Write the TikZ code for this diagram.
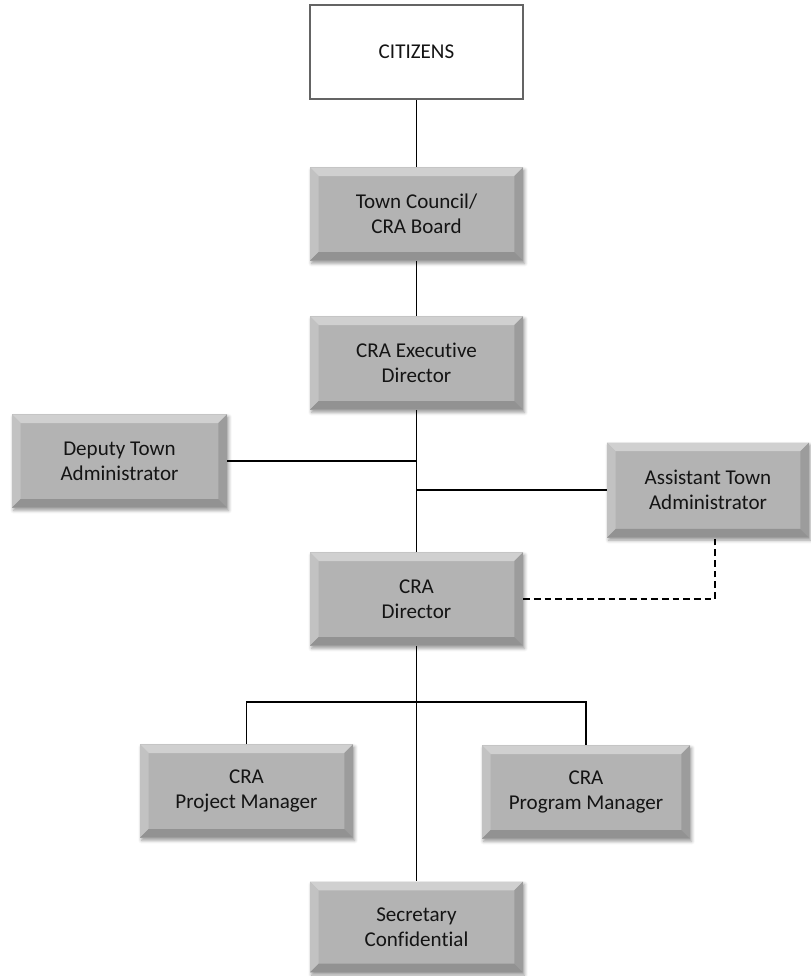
\documentclass[tikz,border=0pt]{standalone}
\usepackage{xcolor}
\usepackage{tikz}
\usepackage{fontspec}
\setmainfont{Carlito}[Ligatures={NoCommon}]
\usetikzlibrary{shadows.blur}

\definecolor{boxface}{RGB}{179,179,179}
\definecolor{bevtop}{RGB}{208,208,208}
\definecolor{bevleft}{RGB}{194,194,194}
\definecolor{bevright}{RGB}{156,156,156}
\definecolor{bevbottom}{RGB}{146,146,146}
\definecolor{citizenline}{RGB}{100,100,100}
\definecolor{labeltext}{RGB}{20,20,20}

\newlength\bevw
\setlength\bevw{6.5pt}

\tikzset{
  labelfont/.style={font=\fontsize{15.8pt}{18.5pt}\selectfont, text=labeltext, align=center},
  orgbox/.style={rectangle, labelfont, inner sep=0pt, fill=boxface,
    minimum width=159.75pt, minimum height=70pt,
    blur shadow={shadow xshift=1.2pt, shadow yshift=-2pt, shadow blur radius=2.5pt, shadow opacity=40},
    path picture={
      \coordinate (pnw) at (path picture bounding box.north west);
      \coordinate (pne) at (path picture bounding box.north east);
      \coordinate (psw) at (path picture bounding box.south west);
      \coordinate (pse) at (path picture bounding box.south east);
      \coordinate (inw) at ([xshift=\bevw,yshift=-\bevw]pnw);
      \coordinate (ine) at ([xshift=-\bevw,yshift=-\bevw]pne);
      \coordinate (isw) at ([xshift=\bevw,yshift=\bevw]psw);
      \coordinate (ise) at ([xshift=-\bevw,yshift=\bevw]pse);
      \fill[bevtop] (pnw) -- (pne) -- (ine) -- (inw) -- cycle;
      \fill[bevleft] (pnw) -- (inw) -- (isw) -- (psw) -- cycle;
      \fill[bevright] (pne) -- (ine) -- (ise) -- (pse) -- cycle;
      \fill[bevbottom] (psw) -- (isw) -- (ise) -- (pse) -- cycle;
    }},
  topbox/.style={rectangle, labelfont, inner sep=0pt, fill=white, draw=citizenline,
    line width=1.4pt, minimum width=159.75pt, minimum height=70.5pt},
  orgline/.style={line width=1.3pt, black},
  dotline/.style={orgline, dash pattern=on 5pt off 3pt}
}

\begin{document}
\begin{tikzpicture}[x=0.75pt,y=-0.75pt]
        \useasboundingbox (0,0) rectangle (811,976); %picture is 811 wide and 976 high

        %Shape: Rectangle [citizens]
        \node[topbox] (citizens) at (416.5,52) {CITIZENS};
        %Shape: Bevel [council]
        \node[orgbox] (council) at (416.5,214) {Town Council/\\CRA Board};
        %Shape: Bevel [exec]
        \node[orgbox] (exec) at (416.5,363) {CRA Executive\\Director};
        %Shape: Bevel [deputy]
        \node[orgbox, minimum width=161.25pt] (deputy) at (119.5,461) {Deputy Town\\Administrator};
        %Shape: Bevel [assistant]
        \node[orgbox, minimum width=151.5pt, minimum height=71.25pt] (assistant) at (708,490) {Assistant Town\\Administrator};
        %Shape: Bevel [director]
        \node[orgbox] (director) at (416.5,599) {CRA\\Director};
        %Shape: Bevel [project]
        \node[orgbox] (project) at (246.5,791) {CRA\\Project Manager};
        %Shape: Bevel [program]
        \node[orgbox, minimum width=156pt] (program) at (586,792) {CRA\\Program Manager};
        %Shape: Bevel [secretary]
        \node[orgbox, minimum height=68pt] (secretary) at (416.5,927) {Secretary\\Confidential};

        \coordinate (split) at (416.5,702);
        \coordinate (dashend) at ([xshift=5.25pt]assistant.south);

        %Straight Lines
        \draw[orgline] (citizens.south) -- (council.north);
        %Straight Lines
        \draw[orgline] (council.south) -- (exec.north);
        %Straight Lines
        \draw[orgline] (exec.south) -- (director.north);
        %Straight Lines
        \draw[orgline] (deputy.east) -- (deputy.east -| exec.south);
        %Straight Lines
        \draw[orgline] (assistant.west) -- (assistant.west -| exec.south);
        %Dashed Lines
        \draw[dotline] (director.east) -| (dashend);
        %Straight Lines
        \draw[orgline] (director.south) -- (secretary.north);
        %Straight Lines
        \draw[orgline] (project.north) |- (split) -| (program.north);
\end{tikzpicture}
\end{document}
